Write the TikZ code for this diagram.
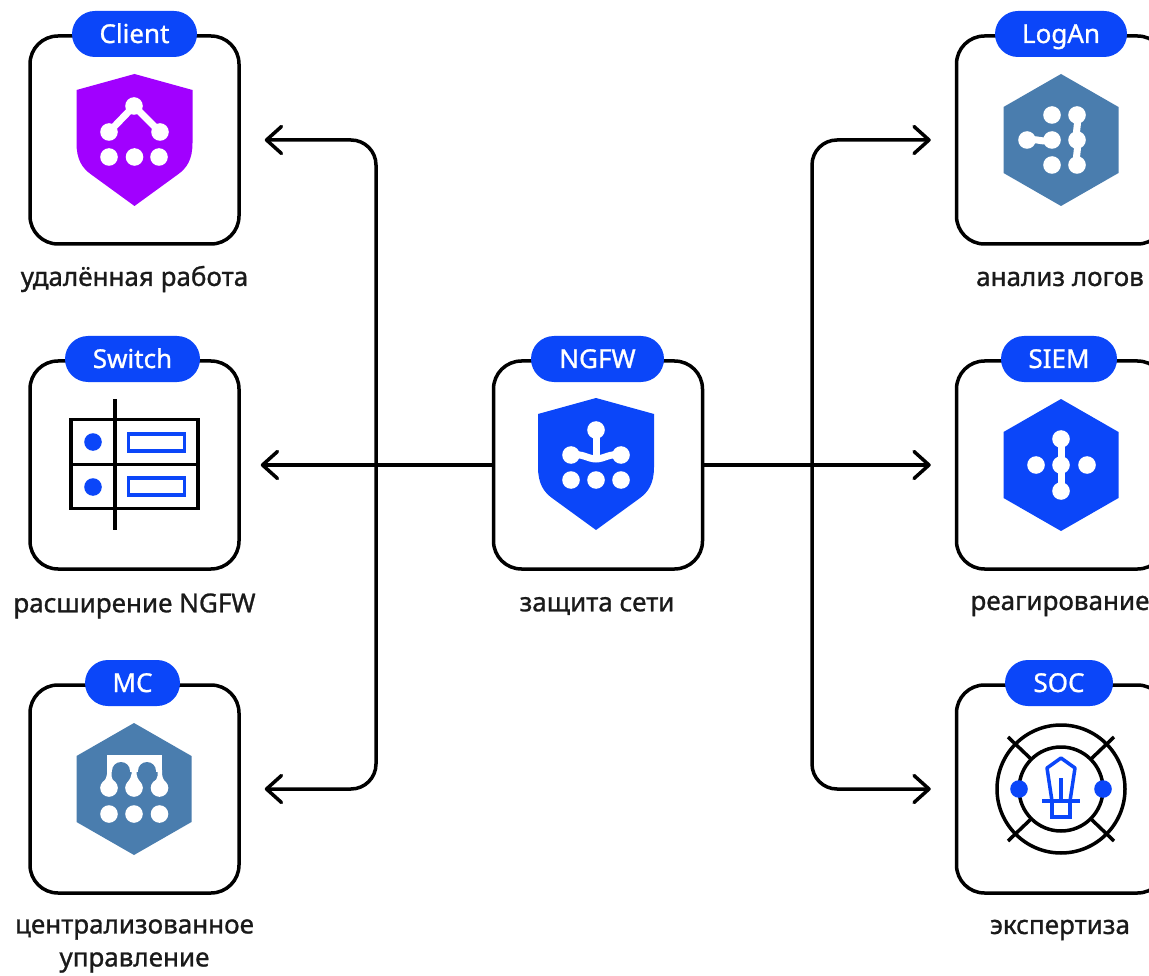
\documentclass[tikz,border=0pt]{standalone}
\usepackage{fontspec}
\setmainfont{Noto Sans}[FakeBold=1.0]
\usetikzlibrary{arrows.meta}
\definecolor{brandblue}{HTML}{0B46F9}
\definecolor{brandpurple}{HTML}{A100FF}
\definecolor{steel}{HTML}{4A7DAE}
\definecolor{ink}{HTML}{1A1A1A}
\tikzset{
  boxnode/.style={draw=black,line width=3.5pt,rounded corners=28pt,minimum width=209pt,minimum height=208pt,inner sep=0pt},
  pill/.style={fill=brandblue,text=white,rounded corners=23pt,minimum height=46pt,inner sep=0pt,font=\fontsize{26}{26}\selectfont,text height=18pt,text depth=0pt},
  caption/.style={text=ink,inner sep=0pt,align=center,font=\fontsize{26}{33}\selectfont},
  conn/.style={draw=black,line width=3.5pt,rounded corners=25pt,-{Straight Barb[length=15pt,width=27pt,line width=3.5pt,round]}},
  link/.style={draw=white,line width=7pt},
  thin/.style={draw=black,line width=3.5pt},
  bluethin/.style={draw=brandblue,line width=3.5pt}
}
\newcommand{\shieldat}[3]{\fill[#3] (#1,#2-66) -- (#1+58,#2-50) -- (#1+58,#2+3) .. controls (#1+58,#2+20) and (#1+52,#2+28) .. (#1+44,#2+34) -- (#1,#2+66) -- (#1-44,#2+34) .. controls (#1-52,#2+28) and (#1-58,#2+20) .. (#1-58,#2+3) -- (#1-58,#2-50) -- cycle;}
\newcommand{\hexat}[3]{\fill[#3] (#1,#2-66) -- (#1+57.5,#2-33) -- (#1+57.5,#2+33) -- (#1,#2+66) -- (#1-57.5,#2+33) -- (#1-57.5,#2-33) -- cycle;}
\newcommand{\wdot}[2]{\fill[white] (#1,#2) circle[radius=8.8];}
\newcommand{\dropat}[1]{\fill[white] (#1-2.5,768) -- (#1+2.5,768) -- (#1+2.5,774) .. controls (#1+3,780) and (#1+8,782) .. (#1+8.7,788) -- (#1-8.7,788) .. controls (#1-8,782) and (#1-3,780) .. (#1-2.5,774) -- cycle;}
\begin{document}
\begin{tikzpicture}[x=1pt,y=-1pt]
\useasboundingbox (0,0) rectangle (1149,976);
\clip (0,0) rectangle (1149,976);
\fill[white] (0,0) rectangle (1149,976);

% boxes
\node[boxnode] (client) at (134.5,140) {};
\node[boxnode] (switch) at (134.5,465) {};
\node[boxnode] (mc) at (134.5,789) {};
\node[boxnode] (ngfw) at (598,465) {};
\node[boxnode] (logan) at (1061,140) {};
\node[boxnode] (siem) at (1061,465) {};
\node[boxnode] (soc) at (1061,789) {};

% pills
\node[pill,minimum width=125pt] (pclient) at (134.5,34) {Client};
\node[pill,minimum width=135pt] (pswitch) at (132.5,359) {Switch};
\node[pill,minimum width=95pt] (pmc) at (132.5,683) {MC};
\node[pill,minimum width=133pt] (pngfw) at (597.5,359) {NGFW};
\node[pill,minimum width=132pt] (plogan) at (1061,34) {LogAn};
\node[pill,minimum width=116pt] (psiem) at (1059,359) {SIEM};
\node[pill,minimum width=108pt] (psoc) at (1059,683) {SOC};

% captions
\node[caption] (cclient) at (134.5,279) {удалённая работа};
\node[caption] (cswitch) at (134.5,606) {расширение NGFW};
\node[caption] (cmc) at (134.5,946) {централизованное\\управление};
\node[caption] (cngfw) at (597,606) {защита сети};
\node[caption] (clogan) at (1060,279) {анализ логов};
\node[caption] (csiem) at (1060,606) {реагирование};
\node[caption] (csoc) at (1060,930) {экспертиза};

% connectors
\coordinate (jl) at (376,465);
\coordinate (jr) at (812,465);
\draw[conn,shorten >=20pt] (ngfw.west) -- (switch.east);
\draw[conn,shorten >=24pt] (jl) |- (client.east);
\draw[conn,shorten >=24pt] (jl) |- (mc.east);
\draw[conn,shorten >=24pt] (ngfw.east) -- (siem.west);
\draw[conn,shorten >=24pt] (jr) |- (logan.west);
\draw[conn,shorten >=24pt] (jr) |- (soc.west);

% Client icon
\shieldat{134.5}{140}{brandpurple}
\draw[link] (109,132) -- (134,106) -- (160,132);
\wdot{134}{106}\wdot{109}{132}\wdot{160}{132}
\wdot{109}{157}\wdot{134.5}{157}\wdot{159}{157}

% NGFW icon
\shieldat{596}{464}{brandblue}
\draw[link] (571,455) .. controls (582,453) and (588,459) .. (596,459) .. controls (604,459) and (610,453) .. (621,455);
\draw[link] (596,430) -- (596,459);
\wdot{596}{430}\wdot{571}{455}\wdot{621}{455}
\wdot{571}{480}\wdot{596}{480}\wdot{621}{480}

% Switch icon
\draw[thin] (71,419.5) rectangle (198,508.5);
\draw[thin] (71,464.5) -- (198,464.5);
\draw[thin] (115,399) -- (115,530);
\fill[brandblue] (93,442) circle[radius=8.8];
\fill[brandblue] (93,487) circle[radius=8.8];
\draw[bluethin] (128.5,434) rectangle (184.5,451);
\draw[bluethin] (128.5,478) rectangle (184.5,495);

% MC icon
\hexat{134}{789}{steel}
\fill[white] (107,755) rectangle (162,772);
\fill[white] (107,770) -- (111.5,770) -- (111.5,776) .. controls (112,781) and (117,783) .. (117.7,788) -- (100.3,788) .. controls (101,783) and (107,780) .. (107,774) -- cycle;
\fill[white] (157.5,770) -- (162,770) -- (162,774) .. controls (162,780) and (167.5,783) .. (168.2,788) -- (150.8,788) .. controls (151.5,783) and (157,781) .. (157.5,776) -- cycle;
\dropat{134}
\fill[steel] (121,771) circle[radius=9];
\fill[steel] (147,771) circle[radius=9];
\wdot{109}{788}\wdot{134}{788}\wdot{159.5}{788}
\wdot{109}{814}\wdot{134}{814}\wdot{159.5}{814}

% LogAn icon
\hexat{1061}{140}{steel}
\draw[link] (1027,140) .. controls (1036,138) and (1043,143) .. (1052,140);
\draw[link] (1077,115) .. controls (1079,123) and (1075,132) .. (1077,140) .. controls (1079,148) and (1075,157) .. (1077,165);
\wdot{1052}{115}\wdot{1052}{165}\wdot{1027}{140}\wdot{1052}{140}
\wdot{1077}{115}\wdot{1077}{140}\wdot{1077}{165}

% SIEM icon
\hexat{1061}{465}{brandblue}
\draw[link] (1061,439) -- (1061,491);
\wdot{1061}{439}\wdot{1061}{465}\wdot{1061}{491}
\wdot{1036}{465}\wdot{1087}{465}

% SOC icon
\draw[thin] (1061,789) circle[radius=64];
\draw[thin] (1061,789) circle[radius=42];
\draw[thin] (1008,737) -- (1031,759);
\draw[thin] (1114,737) -- (1091,759);
\draw[thin] (1008,841) -- (1031,819);
\draw[thin] (1114,841) -- (1091,819);
\fill[brandblue] (1019,789) circle[radius=8.8];
\fill[brandblue] (1103,789) circle[radius=8.8];
\draw[bluethin,line join=round] (1061,758) -- (1075,768) -- (1070,801) -- (1052,801) -- (1047,768) -- cycle;
\draw[bluethin] (1042,801) -- (1080,801);
\draw[bluethin] (1061,778) -- (1061,801);
\draw[bluethin] (1052,801) rectangle (1070,817);
\end{tikzpicture}
\end{document}
